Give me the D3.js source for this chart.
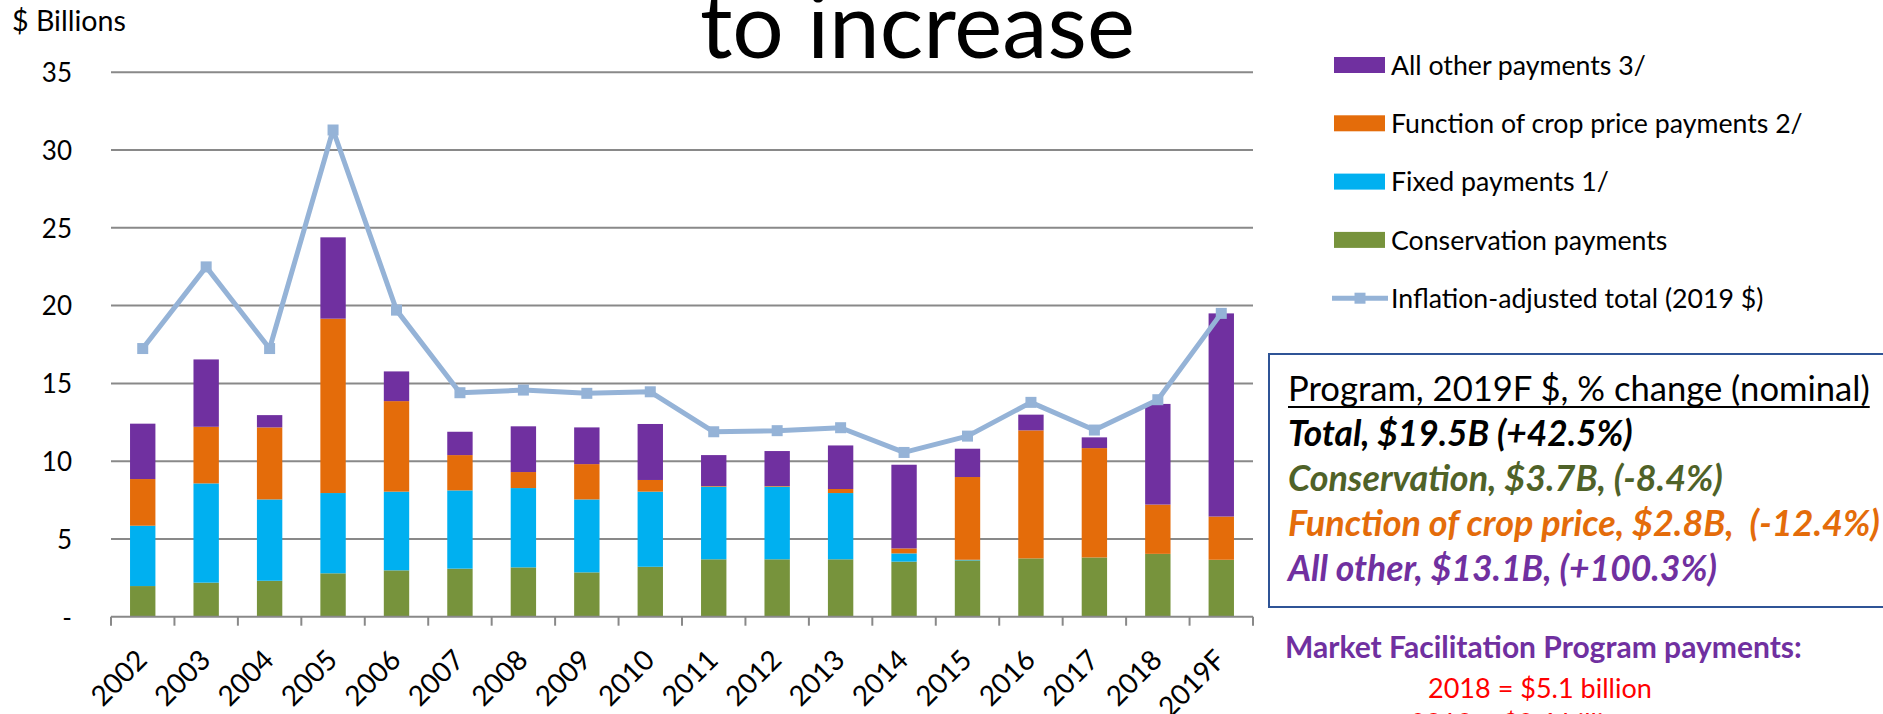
<!DOCTYPE html>
<html>
<head>
<meta charset="utf-8">
<script src="https://cdn.jsdelivr.net/npm/d3@7/dist/d3.min.js"></script>
<style>
  html, body { margin: 0; padding: 0; background: #fff; }
  svg { display: block; font-family: Lato, "Open Sans", sans-serif; }
  text { white-space: pre; }
</style>
</head>
<body>
<svg id="chart" width="1883" height="714"></svg>
<script>
// Direct government payments by program, $ billions
const years = ["2002","2003","2004","2005","2006","2007","2008","2009","2010",
               "2011","2012","2013","2014","2015","2016","2017","2018","2019F"];
const conservation = [1.97,2.19,2.31,2.79,2.98,3.09,3.17,2.85,3.21,3.69,3.69,3.69,3.54,3.62,3.75,3.81,4.04,3.66];
const fixedPayments = [3.88,6.38,5.23,5.16,5.06,5.03,5.10,4.69,4.83,4.67,4.67,4.26,0.53,0.04,0,0,0,0];
const cropPrice = [3.00,3.64,4.63,11.21,5.82,2.27,1.03,2.27,0.75,0.04,0.04,0.26,0.32,5.32,8.23,7.03,3.17,2.78];
const allOther = [3.56,4.33,0.79,5.23,1.91,1.50,2.94,2.36,3.60,1.99,2.25,2.80,5.38,1.82,1.01,0.69,6.47,13.06];
const inflationAdjusted = [17.24,22.49,17.24,31.29,19.71,14.40,14.57,14.36,14.46,11.89,11.96,12.15,10.56,11.61,13.78,12.00,13.95,19.50];
const yTickValues = [0,5,10,15,20,25,30,35];

const seriesKeys = ["conservation","fixed","crop","other"];
const seriesColors = {conservation:"#77933C", fixed:"#00B0F0", crop:"#E46C0A", other:"#7030A0"};
const lineColor = "#95B3D7";
const gridColor = "#898989";

const legendItems = [
  {label:"All other payments 3/", key:"other"},
  {label:"Function of crop price payments 2/", key:"crop"},
  {label:"Fixed payments 1/", key:"fixed"},
  {label:"Conservation payments", key:"conservation"},
  {label:"Inflation-adjusted total (2019 $)", key:"line"}
];

const svg = d3.select("#chart");

// scales
const x = d3.scaleBand().domain(years).range([111, 1253]).paddingInner(0.6).paddingOuter(0.3);
const step = x.step();
const y = d3.scaleLinear().domain([0, 35]).range([616.7, 72.3]);

// resize a text node so it spans the given width
function fitWidth(sel, w) {
  const len = sel.node().getComputedTextLength();
  const fs = parseFloat(sel.attr("font-size"));
  sel.attr("font-size", fs * w / len);
  return sel;
}

// title line (top of the slide, runs past the top edge)
const title = svg.append("text")
  .attr("x", 700).attr("y", 58)
  .attr("font-size", 95).attr("fill", "#000")
  .text("to increase");
fitWidth(title, 435);

// unit label
svg.append("text").attr("x", 12).attr("y", 31)
  .attr("font-size", 28).attr("fill", "#000").text("$ Billions")
  .call(s => fitWidth(s, 114));

// gridlines
svg.append("g").selectAll("line")
  .data(yTickValues.filter(d => d > 0))
  .join("line")
  .attr("x1", x.range()[0]).attr("x2", x.range()[1])
  .attr("y1", d => y(d)).attr("y2", d => y(d))
  .attr("stroke", gridColor).attr("stroke-width", 2);

// y axis labels
const yAxis = d3.axisLeft(y).tickValues(yTickValues)
  .tickFormat(d => d === 0 ? "-" : d).tickSize(0).tickPadding(0);
svg.append("g").attr("transform", "translate(72,0)").call(yAxis)
  .call(g => g.select(".domain").remove())
  .call(g => g.selectAll("text").attr("font-size", 26).attr("font-family", "Lato, sans-serif")
    .attr("fill", "#000").attr("dy", "0.36em"));

// stacked bars
const rows = years.map((yr, i) => ({
  year: yr,
  conservation: conservation[i], fixed: fixedPayments[i],
  crop: cropPrice[i], other: allOther[i]
}));
const stacked = d3.stack().keys(seriesKeys)(rows);
svg.append("g").selectAll("g")
  .data(stacked)
  .join("g")
  .attr("fill", d => seriesColors[d.key])
  .selectAll("rect")
  .data(d => d)
  .join("rect")
  .attr("x", d => x(d.data.year))
  .attr("width", x.bandwidth())
  .attr("y", d => y(d[1]))
  .attr("height", d => Math.max(0, y(d[0]) - y(d[1])));

// category axis with tick marks between categories
const axisY = y(0);
const axisG = svg.append("g");
axisG.append("line")
  .attr("x1", x.range()[0]).attr("x2", x.range()[1])
  .attr("y1", axisY).attr("y2", axisY)
  .attr("stroke", gridColor).attr("stroke-width", 2);
axisG.selectAll("line.tick")
  .data(d3.range(years.length + 1))
  .join("line").attr("class", "tick")
  .attr("x1", i => x.range()[0] + i * step).attr("x2", i => x.range()[0] + i * step)
  .attr("y1", axisY).attr("y2", axisY + 9)
  .attr("stroke", gridColor).attr("stroke-width", 2);
axisG.selectAll("text")
  .data(years)
  .join("text")
  .attr("transform", d => `translate(${x(d) + x.bandwidth() / 2 + 6},${axisY + 45}) rotate(-45)`)
  .attr("text-anchor", "end")
  .attr("font-size", 28).attr("fill", "#000")
  .text(d => d);

// inflation-adjusted total line
const line = d3.line()
  .x((d, i) => x(years[i]) + x.bandwidth() / 2)
  .y(d => y(d));
svg.append("path").datum(inflationAdjusted)
  .attr("d", line).attr("fill", "none")
  .attr("stroke", lineColor).attr("stroke-width", 5)
  .attr("stroke-linejoin", "round");
svg.append("g").selectAll("rect")
  .data(inflationAdjusted)
  .join("rect")
  .attr("x", (d, i) => x(years[i]) + x.bandwidth() / 2 - 5.5)
  .attr("y", d => y(d) - 5.5)
  .attr("width", 11).attr("height", 11)
  .attr("fill", lineColor);

// legend
const legend = svg.append("g");
const legendTop = 65, legendStep = 58.3;
legendItems.forEach((item, i) => {
  const cy = legendTop + i * legendStep;
  if (item.key === "line") {
    legend.append("line").attr("x1", 1332).attr("x2", 1388).attr("y1", cy).attr("y2", cy)
      .attr("stroke", lineColor).attr("stroke-width", 5);
    legend.append("rect").attr("x", 1354.5).attr("y", cy - 5.5).attr("width", 11).attr("height", 11)
      .attr("fill", lineColor);
  } else {
    legend.append("rect").attr("x", 1334).attr("y", cy - 8).attr("width", 51).attr("height", 16)
      .attr("fill", seriesColors[item.key]);
  }
  legend.append("text").attr("class", "legend-label")
    .attr("x", 1391).attr("y", cy).attr("dy", "0.36em")
    .attr("font-size", 25).attr("fill", "#000").text(item.label);
});
// common legend font size, set from the longest label
const longest = legend.selectAll("text.legend-label").filter((d, i) => i === 1);
fitWidth(longest, 412);
legend.selectAll("text.legend-label").attr("font-size", longest.attr("font-size"));

// summary box
const box = svg.append("g");
box.append("rect").attr("x", 1269).attr("y", 354).attr("width", 640).attr("height", 253)
  .attr("fill", "#fff").attr("stroke", "#2F5496").attr("stroke-width", 2);
const header = box.append("text").attr("x", 1288).attr("y", 401)
  .attr("font-size", 33).attr("fill", "#000")
  .text("Program, 2019F $, % change (nominal)");
fitWidth(header, 582);
box.append("line").attr("x1", 1288).attr("x2", 1288 + header.node().getComputedTextLength())
  .attr("y1", 407).attr("y2", 407).attr("stroke", "#000").attr("stroke-width", 2);

const summaryLines = [
  {text:"Total, $19.5B (+42.5%)", color:"#000000", y:446, w:345},
  {text:"Conservation, $3.7B, (-8.4%)", color:"#4F6228", y:491, w:435},
  {text:"Function of crop price, $2.8B,  (-12.4%)", color:"#E46C0A", y:536, w:592},
  {text:"All other, $13.1B, (+100.3%)", color:"#7030A0", y:581, w:429}
];
summaryLines.forEach(l => {
  box.append("text").attr("x", 1288).attr("y", l.y)
    .attr("font-size", 34).attr("font-weight", 700).attr("font-style", "italic")
    .attr("fill", l.color).text(l.text)
    .call(s => fitWidth(s, l.w));
});

// MFP note
svg.append("text").attr("x", 1285).attr("y", 658)
  .attr("font-size", 28).attr("font-weight", 700).attr("fill", "#7030A0")
  .text("Market Facilitation Program payments:")
  .call(s => fitWidth(s, 517));
svg.append("text").attr("x", 1428).attr("y", 698)
  .attr("font-size", 28).attr("fill", "#FF0000")
  .text("2018 = $5.1 billion")
  .call(s => fitWidth(s, 224));
svg.append("text").attr("x", 1410).attr("y", 733)
  .attr("font-size", 28).attr("fill", "#FF0000")
  .text("2019 = $8.6 billion")
  .call(s => fitWidth(s, 224));
</script>
</body>
</html>
